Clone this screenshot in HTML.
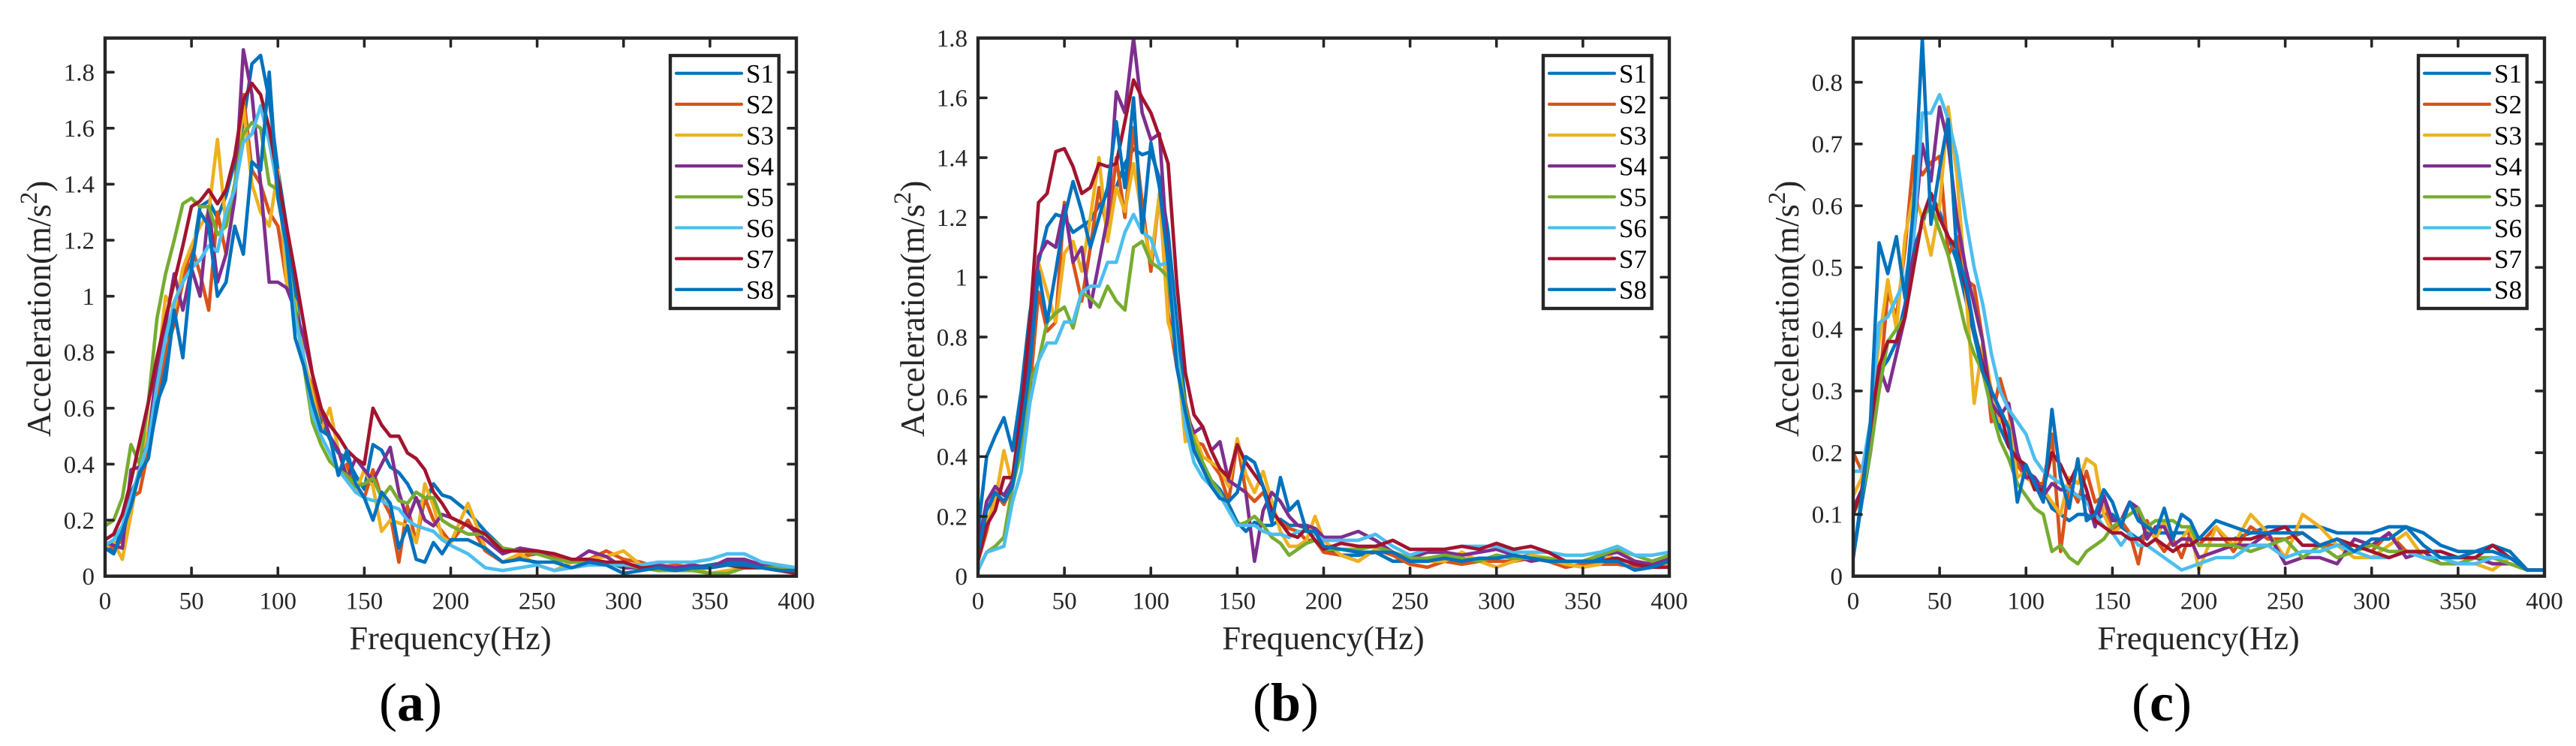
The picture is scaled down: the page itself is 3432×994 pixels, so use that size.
<!DOCTYPE html>
<html lang="en">
<head>
<meta charset="utf-8">
<title>Acceleration spectra S1–S8, panels a, b, c</title>
<style>
html,body{margin:0;padding:0;background:#fff;}
svg{display:block;}
text{font-family:"Liberation Serif",serif;fill:#262626;}
</style>
</head>
<body>
<svg id="figure" xmlns="http://www.w3.org/2000/svg" width="3432" height="994" viewBox="0 0 3432 994">
  <rect x="0" y="0" width="3432" height="994" fill="#fff"/>
  <defs>
    <clipPath id="clip-a"><rect x="140" y="50.7" width="921" height="717"/></clipPath>
    <clipPath id="clip-b"><rect x="1303" y="50.7" width="921" height="717"/></clipPath>
    <clipPath id="clip-c"><rect x="2469" y="50.7" width="921" height="717"/></clipPath>
  </defs>

  <g id="panel-a"></g>
  <g id="panel-b"></g>
  <g id="panel-c"></g>

  <text x="600" y="865" font-size="44.5" text-anchor="middle">Frequency(Hz)</text>
  <text x="1763" y="865" font-size="44.5" text-anchor="middle">Frequency(Hz)</text>
  <text x="2929" y="865" font-size="44.5" text-anchor="middle">Frequency(Hz)</text>

  <text transform="translate(67,582) rotate(-90)" font-size="45">Acceleration(m/s<tspan font-size="33" dy="-18">2</tspan><tspan dy="18">)</tspan></text>
  <text transform="translate(1231,582) rotate(-90)" font-size="45">Acceleration(m/s<tspan font-size="33" dy="-18">2</tspan><tspan dy="18">)</tspan></text>
  <text transform="translate(2396,582) rotate(-90)" font-size="45">Acceleration(m/s<tspan font-size="33" dy="-18">2</tspan><tspan dy="18">)</tspan></text>

  <text x="547" y="960" font-size="72" text-anchor="middle" style="fill:#000">(<tspan font-weight="bold">a</tspan>)</text>
  <text x="1713" y="960" font-size="72" text-anchor="middle" style="fill:#000">(<tspan font-weight="bold">b</tspan>)</text>
  <text x="2880" y="960" font-size="72" text-anchor="middle" style="fill:#000">(<tspan font-weight="bold">c</tspan>)</text>
</svg>

<script>
const frequencies = [
  0,5,10,15,20,25,30,35,40,45,
  50,55,60,65,70,75,80,85,90,95,
  100,105,110,115,120,125,130,135,140,145,
  150,155,160,165,170,175,180,185,190,195,
  200,210,220,230,240,250,260,270,280,290,
  300,310,320,330,340,350,360,370,380,390,
  400];
const seriesNames = ['S1','S2','S3','S4','S5','S6','S7','S8'];
const xTickValues = [0,50,100,150,200,250,300,350,400];
const yTicksA = [0,0.2,0.4,0.6,0.8,1,1.2,1.4,1.6,1.8];
const yTicksB = [0,0.2,0.4,0.6,0.8,1,1.2,1.4,1.6,1.8];
const yTicksC = [0,0.1,0.2,0.3,0.4,0.5,0.6,0.7,0.8];

const a1 = [0.11,0.09,0.17,0.30,0.36,0.44,0.60,0.76,0.97,1.06,
  1.12,1.32,1.34,1.28,1.36,1.48,1.62,1.83,1.86,1.70,
  1.45,1.25,1.02,0.78,0.65,0.56,0.49,0.44,0.42,0.36,
  0.31,0.47,0.45,0.39,0.37,0.33,0.27,0.26,0.33,0.29,
  0.28,0.23,0.16,0.10,0.09,0.08,0.07,0.05,0.05,0.05,
  0.03,0.03,0.03,0.03,0.03,0.04,0.05,0.05,0.04,0.03,
  0.03];
const a2 = [0.12,0.10,0.13,0.28,0.30,0.45,0.65,0.80,0.90,1.05,
  1.18,1.08,0.95,1.30,1.15,1.35,1.72,1.45,1.40,1.30,
  1.25,1.05,0.95,0.75,0.68,0.58,0.50,0.36,0.40,0.30,
  0.28,0.38,0.28,0.22,0.05,0.25,0.12,0.28,0.20,0.16,
  0.12,0.20,0.09,0.05,0.07,0.08,0.07,0.05,0.06,0.09,
  0.06,0.05,0.03,0.04,0.03,0.03,0.04,0.04,0.03,0.02,
  0.02];
const a3 = [0.10,0.12,0.06,0.22,0.40,0.52,0.72,1.00,0.95,1.10,
  1.18,1.25,1.30,1.56,1.25,1.40,1.68,1.40,1.30,1.25,
  1.45,1.05,0.98,0.78,0.65,0.52,0.60,0.45,0.36,0.30,
  0.38,0.32,0.16,0.20,0.19,0.18,0.12,0.33,0.25,0.14,
  0.12,0.26,0.10,0.05,0.08,0.04,0.02,0.05,0.06,0.07,
  0.09,0.04,0.04,0.03,0.03,0.01,0.02,0.03,0.03,0.03,
  0.03];
const a4 = [0.12,0.11,0.10,0.38,0.39,0.48,0.75,0.90,1.08,0.95,
  1.10,1.00,1.32,1.05,1.15,1.35,1.88,1.72,1.40,1.05,
  1.05,1.03,0.95,0.85,0.72,0.60,0.50,0.45,0.35,0.42,
  0.38,0.34,0.40,0.46,0.30,0.20,0.28,0.20,0.18,0.22,
  0.21,0.18,0.13,0.08,0.10,0.09,0.06,0.05,0.09,0.07,
  0.03,0.03,0.04,0.03,0.04,0.03,0.06,0.06,0.04,0.03,
  0.02];
const a5 = [0.18,0.20,0.28,0.47,0.40,0.62,0.92,1.08,1.20,1.33,
  1.35,1.32,1.32,1.22,1.25,1.40,1.58,1.62,1.60,1.40,
  1.38,1.15,0.95,0.75,0.55,0.47,0.41,0.38,0.36,0.32,
  0.33,0.35,0.28,0.32,0.27,0.26,0.30,0.28,0.28,0.20,
  0.18,0.15,0.15,0.10,0.09,0.08,0.06,0.05,0.05,0.05,
  0.04,0.03,0.02,0.02,0.02,0.01,0.01,0.03,0.03,0.03,
  0.02];
const a6 = [0.11,0.13,0.18,0.28,0.38,0.48,0.68,0.85,0.98,1.05,
  1.10,1.13,1.18,1.16,1.30,1.38,1.55,1.58,1.68,1.55,
  1.38,1.15,0.92,0.78,0.58,0.50,0.44,0.38,0.34,0.30,
  0.28,0.27,0.27,0.25,0.24,0.20,0.18,0.17,0.16,0.13,
  0.11,0.08,0.03,0.02,0.03,0.04,0.02,0.03,0.04,0.04,
  0.04,0.04,0.05,0.05,0.05,0.06,0.08,0.08,0.05,0.04,
  0.03];
const a7 = [0.13,0.15,0.22,0.34,0.48,0.62,0.78,0.92,1.05,1.18,
  1.32,1.34,1.38,1.33,1.38,1.50,1.70,1.76,1.72,1.60,
  1.42,1.25,1.08,0.90,0.72,0.60,0.54,0.50,0.45,0.42,
  0.40,0.60,0.54,0.50,0.50,0.44,0.42,0.38,0.30,0.26,
  0.21,0.18,0.15,0.09,0.09,0.09,0.08,0.06,0.06,0.05,
  0.05,0.03,0.03,0.02,0.03,0.03,0.04,0.03,0.03,0.02,
  0.01];
const a8 = [0.10,0.08,0.16,0.25,0.37,0.42,0.62,0.70,0.95,0.78,
  1.10,1.30,1.25,1.00,1.05,1.25,1.15,1.48,1.45,1.80,
  1.35,1.18,0.85,0.75,0.62,0.52,0.50,0.36,0.45,0.33,
  0.28,0.20,0.30,0.26,0.10,0.18,0.06,0.05,0.12,0.08,
  0.13,0.13,0.10,0.05,0.06,0.05,0.05,0.03,0.05,0.04,
  0.01,0.02,0.03,0.02,0.03,0.03,0.04,0.04,0.03,0.02,
  0.02];

const b1 = [0.15,0.40,0.47,0.53,0.42,0.62,0.88,1.05,1.17,1.21,
  1.20,1.15,1.17,1.19,1.24,1.28,1.30,1.38,1.43,1.41,
  1.42,1.33,1.15,0.85,0.58,0.45,0.38,0.32,0.29,0.24,
  0.18,0.15,0.18,0.17,0.17,0.19,0.17,0.17,0.16,0.15,
  0.09,0.07,0.07,0.08,0.05,0.05,0.05,0.05,0.05,0.05,
  0.07,0.06,0.07,0.06,0.05,0.05,0.06,0.06,0.04,0.04,
  0.04];
const b2 = [0.05,0.15,0.28,0.24,0.30,0.45,0.62,0.95,0.82,0.85,
  1.25,1.05,0.92,1.10,1.30,1.15,1.40,1.20,1.50,1.25,
  1.02,1.28,0.88,0.70,0.58,0.45,0.44,0.38,0.34,0.25,
  0.45,0.28,0.25,0.28,0.22,0.18,0.16,0.15,0.12,0.12,
  0.08,0.07,0.05,0.09,0.07,0.04,0.03,0.05,0.04,0.05,
  0.05,0.05,0.06,0.05,0.03,0.04,0.04,0.04,0.03,0.03,
  0.05];
const b3 = [0.05,0.18,0.25,0.42,0.30,0.50,0.70,1.05,0.95,0.85,
  1.08,1.12,1.02,1.20,1.40,1.12,1.30,1.22,1.38,1.20,
  1.05,1.28,0.85,0.75,0.45,0.48,0.40,0.38,0.36,0.30,
  0.46,0.34,0.28,0.35,0.25,0.15,0.10,0.10,0.12,0.20,
  0.12,0.07,0.05,0.09,0.08,0.06,0.05,0.05,0.08,0.05,
  0.03,0.05,0.07,0.06,0.04,0.03,0.04,0.09,0.05,0.04,
  0.04];
const b4 = [0.10,0.25,0.30,0.27,0.32,0.55,0.75,1.07,1.12,1.10,
  1.24,1.05,1.10,0.90,1.05,1.20,1.62,1.55,1.80,1.55,
  1.46,1.48,1.05,0.75,0.55,0.48,0.50,0.42,0.45,0.32,
  0.30,0.28,0.05,0.22,0.28,0.25,0.20,0.17,0.17,0.16,
  0.13,0.13,0.15,0.12,0.08,0.06,0.08,0.08,0.07,0.08,
  0.09,0.07,0.05,0.06,0.05,0.05,0.07,0.08,0.05,0.04,
  0.06];
const b5 = [0.02,0.08,0.10,0.13,0.30,0.42,0.65,0.72,0.85,0.88,
  0.90,0.83,0.95,0.93,0.90,0.97,0.92,0.89,1.10,1.12,
  1.05,1.03,1.00,0.75,0.56,0.45,0.38,0.32,0.28,0.22,
  0.17,0.18,0.20,0.17,0.13,0.11,0.07,0.09,0.11,0.12,
  0.09,0.09,0.09,0.10,0.08,0.06,0.06,0.07,0.06,0.05,
  0.07,0.06,0.06,0.06,0.05,0.05,0.07,0.09,0.07,0.05,
  0.07];
const b6 = [0.02,0.08,0.09,0.10,0.25,0.35,0.58,0.72,0.78,0.78,
  0.85,0.85,0.95,0.97,0.97,1.05,1.05,1.15,1.21,1.15,
  1.13,1.04,1.05,0.75,0.50,0.38,0.33,0.30,0.27,0.22,
  0.17,0.17,0.17,0.15,0.14,0.14,0.13,0.15,0.15,0.14,
  0.12,0.12,0.12,0.14,0.10,0.07,0.09,0.09,0.10,0.10,
  0.10,0.08,0.08,0.08,0.07,0.07,0.08,0.10,0.07,0.07,
  0.08];
const b7 = [0.05,0.17,0.22,0.33,0.33,0.55,0.85,1.25,1.28,1.42,
  1.43,1.37,1.28,1.30,1.38,1.37,1.38,1.52,1.66,1.60,
  1.55,1.47,1.38,0.98,0.68,0.54,0.50,0.42,0.36,0.33,
  0.44,0.38,0.34,0.30,0.22,0.18,0.14,0.13,0.16,0.12,
  0.09,0.11,0.10,0.10,0.12,0.09,0.09,0.09,0.10,0.09,
  0.11,0.09,0.10,0.08,0.05,0.05,0.05,0.06,0.04,0.03,
  0.03];
const b8 = [0.08,0.22,0.28,0.25,0.30,0.48,0.70,1.02,0.85,1.02,
  1.20,1.32,1.22,1.10,1.20,1.30,1.52,1.30,1.60,1.15,
  1.45,1.30,1.05,0.70,0.55,0.42,0.36,0.30,0.26,0.25,
  0.28,0.40,0.38,0.30,0.18,0.33,0.22,0.25,0.15,0.15,
  0.10,0.09,0.08,0.08,0.08,0.05,0.05,0.06,0.05,0.06,
  0.06,0.07,0.06,0.05,0.05,0.05,0.05,0.05,0.02,0.03,
  0.05];

const c1 = [0.03,0.12,0.20,0.33,0.35,0.38,0.44,0.53,0.57,0.62,
  0.59,0.55,0.51,0.45,0.39,0.33,0.29,0.24,0.21,0.19,
  0.17,0.16,0.14,0.11,0.10,0.09,0.10,0.10,0.09,0.10,
  0.10,0.08,0.07,0.06,0.07,0.07,0.07,0.07,0.07,0.07,
  0.06,0.06,0.06,0.07,0.08,0.08,0.08,0.08,0.07,0.07,
  0.07,0.08,0.08,0.07,0.05,0.04,0.04,0.05,0.04,0.01,
  0.01];
const c2 = [0.20,0.17,0.24,0.30,0.46,0.42,0.53,0.68,0.65,0.67,
  0.68,0.52,0.55,0.48,0.47,0.38,0.25,0.32,0.27,0.18,
  0.16,0.15,0.15,0.23,0.04,0.15,0.12,0.17,0.12,0.13,
  0.07,0.09,0.07,0.02,0.09,0.06,0.04,0.06,0.03,0.07,
  0.05,0.08,0.04,0.08,0.06,0.06,0.07,0.05,0.05,0.05,
  0.04,0.07,0.04,0.03,0.03,0.03,0.03,0.02,0.02,0.01,
  0.01];
const c3 = [0.13,0.16,0.25,0.38,0.48,0.40,0.55,0.62,0.58,0.52,
  0.60,0.76,0.65,0.47,0.28,0.38,0.30,0.25,0.25,0.16,
  0.17,0.14,0.14,0.12,0.10,0.16,0.15,0.19,0.18,0.10,
  0.07,0.08,0.12,0.10,0.08,0.06,0.09,0.05,0.06,0.08,
  0.01,0.08,0.05,0.10,0.07,0.03,0.10,0.08,0.05,0.03,
  0.03,0.05,0.07,0.03,0.03,0.02,0.02,0.01,0.03,0.01,
  0.01];
const c4 = [0.11,0.14,0.22,0.34,0.30,0.36,0.42,0.55,0.70,0.64,
  0.76,0.70,0.58,0.50,0.44,0.38,0.28,0.26,0.28,0.20,
  0.16,0.16,0.13,0.15,0.14,0.14,0.13,0.13,0.08,0.13,
  0.09,0.09,0.12,0.11,0.06,0.08,0.08,0.05,0.06,0.06,
  0.03,0.04,0.05,0.05,0.07,0.02,0.03,0.03,0.02,0.06,
  0.05,0.07,0.03,0.04,0.02,0.02,0.03,0.02,0.02,0.01,
  0.01];
const c5 = [0.10,0.13,0.20,0.30,0.38,0.40,0.42,0.50,0.58,0.60,
  0.56,0.52,0.46,0.40,0.36,0.33,0.27,0.22,0.19,0.15,
  0.13,0.11,0.10,0.04,0.05,0.03,0.02,0.04,0.05,0.06,
  0.08,0.09,0.10,0.11,0.08,0.09,0.09,0.09,0.08,0.08,
  0.05,0.05,0.05,0.04,0.05,0.06,0.03,0.05,0.03,0.04,
  0.05,0.04,0.04,0.03,0.02,0.02,0.03,0.03,0.02,0.01,
  0.01];
const c6 = [0.17,0.17,0.25,0.41,0.42,0.45,0.48,0.55,0.75,0.75,
  0.78,0.74,0.68,0.58,0.50,0.44,0.36,0.30,0.27,0.25,
  0.23,0.19,0.17,0.16,0.15,0.14,0.13,0.12,0.10,0.08,
  0.07,0.05,0.07,0.05,0.05,0.04,0.03,0.02,0.01,0.015,
  0.02,0.03,0.03,0.05,0.05,0.03,0.04,0.04,0.05,0.04,
  0.03,0.03,0.04,0.03,0.03,0.02,0.02,0.03,0.03,0.01,
  0.01];
const c7 = [0.10,0.14,0.24,0.34,0.38,0.38,0.42,0.50,0.58,0.62,
  0.58,0.55,0.53,0.47,0.40,0.34,0.30,0.27,0.21,0.19,
  0.18,0.14,0.14,0.20,0.18,0.15,0.18,0.14,0.09,0.08,
  0.07,0.07,0.06,0.06,0.05,0.06,0.05,0.04,0.05,0.05,
  0.06,0.06,0.06,0.06,0.07,0.08,0.05,0.05,0.06,0.05,
  0.04,0.03,0.04,0.04,0.04,0.03,0.03,0.05,0.03,0.01,
  0.01];
const c8 = [0.03,0.13,0.25,0.54,0.49,0.55,0.45,0.60,0.87,0.57,
  0.66,0.74,0.52,0.48,0.40,0.33,0.30,0.27,0.24,0.12,
  0.18,0.15,0.12,0.27,0.16,0.11,0.19,0.09,0.10,0.14,
  0.12,0.08,0.12,0.09,0.08,0.07,0.11,0.06,0.10,0.09,
  0.06,0.09,0.08,0.07,0.07,0.07,0.07,0.05,0.06,0.04,
  0.06,0.06,0.08,0.05,0.03,0.03,0.04,0.04,0.03,0.01,
  0.01];

const seriesColors = ['#0072BD','#D95319','#EDB120','#7E2F8E','#77AC30','#4DBEEE','#A2142F','#0072BD'];

const SVG_NS = 'http://www.w3.org/2000/svg';
const PLOT_W = 921, PLOT_TOP = 50.7, PLOT_BOTTOM = 767.7, X_MAX = 400;
const INK = '#262626';

function make(tag, attrs, parent) {
  const el = document.createElementNS(SVG_NS, tag);
  for (const k in attrs) el.setAttribute(k, attrs[k]);
  parent.appendChild(el);
  return el;
}

function drawPanel(id, left, yMax, yTicks, seriesList) {
  const root = document.getElementById('panel-' + id);
  const right = left + PLOT_W;
  const xScale = v => left + v / X_MAX * PLOT_W;
  const yScale = v => PLOT_BOTTOM - v / yMax * (PLOT_BOTTOM - PLOT_TOP);

  const lineGroup = make('g', {'clip-path': 'url(#clip-' + id + ')', fill: 'none', 'stroke-width': 4.6, 'stroke-linejoin': 'round', 'stroke-linecap': 'round'}, root);
  
  
  seriesList.forEach((values, i) => {
    const d = values.map((v, j) => (j ? 'L' : 'M') + xScale(frequencies[j]).toFixed(1) + ' ' + yScale(v).toFixed(1)).join('');
    const line = make('path', {d: d, stroke: seriesColors[i]}, lineGroup);
    
    
  });

  const frame = make('rect', {x: left, y: PLOT_TOP, width: PLOT_W, height: PLOT_BOTTOM - PLOT_TOP, fill: 'none', stroke: INK, 'stroke-width': 4.4}, root);
  
  

  xTickValues.forEach(v => {
    const x = xScale(v);
    const bottomTick = make('line', {x1: x, x2: x, y1: PLOT_BOTTOM, y2: PLOT_BOTTOM - 11, stroke: INK, 'stroke-width': 3.6, 'stroke-linecap': 'round'}, root);
    
    
    const topTick = make('line', {x1: x, x2: x, y1: PLOT_TOP, y2: PLOT_TOP + 11, stroke: INK, 'stroke-width': 3.6, 'stroke-linecap': 'round'}, root);
    
    
    const label = make('text', {x: x, y: 811.5, 'font-size': 33, 'text-anchor': 'middle'}, root);
    
    
    label.textContent = String(v);
  });

  yTicks.forEach(v => {
    const y = yScale(v);
    const leftTick = make('line', {x1: left, x2: left + 11, y1: y, y2: y, stroke: INK, 'stroke-width': 3.6, 'stroke-linecap': 'round'}, root);
    
    
    const rightTick = make('line', {x1: right, x2: right - 11, y1: y, y2: y, stroke: INK, 'stroke-width': 3.6, 'stroke-linecap': 'round'}, root);
    
    
    const label = make('text', {x: left - 14, y: y + 11.3, 'font-size': 33, 'text-anchor': 'end'}, root);
    
    
    label.textContent = String(v);
  });

  const legendLeft = left + 753;
  const legend = make('g', {}, root);
  
  
  const box = make('rect', {x: legendLeft, y: 74, width: 144.7, height: 337, fill: '#fff', stroke: INK, 'stroke-width': 4.4}, legend);
  
  
  seriesNames.forEach((name, i) => {
    const rowY = 97.7 + i * 41.15;
    const swatch = make('line', {x1: legendLeft + 8, x2: legendLeft + 95, y1: rowY, y2: rowY, stroke: seriesColors[i], 'stroke-width': 4.2, 'stroke-linecap': 'round'}, legend);
    
    
    const label = make('text', {x: legendLeft + 101, y: rowY + 12.3, 'font-size': 35, style: 'fill:#000'}, legend);
    
    
    label.textContent = name;
  });
}

drawPanel('a', 140, 1.922, yTicksA, [a1,a2,a3,a4,a5,a6,a7,a8]);
drawPanel('b', 1303, 1.8, yTicksB, [b1,b2,b3,b4,b5,b6,b7,b8]);
drawPanel('c', 2469, 0.8716, yTicksC, [c1,c2,c3,c4,c5,c6,c7,c8]);
</script>
</body>
</html>
